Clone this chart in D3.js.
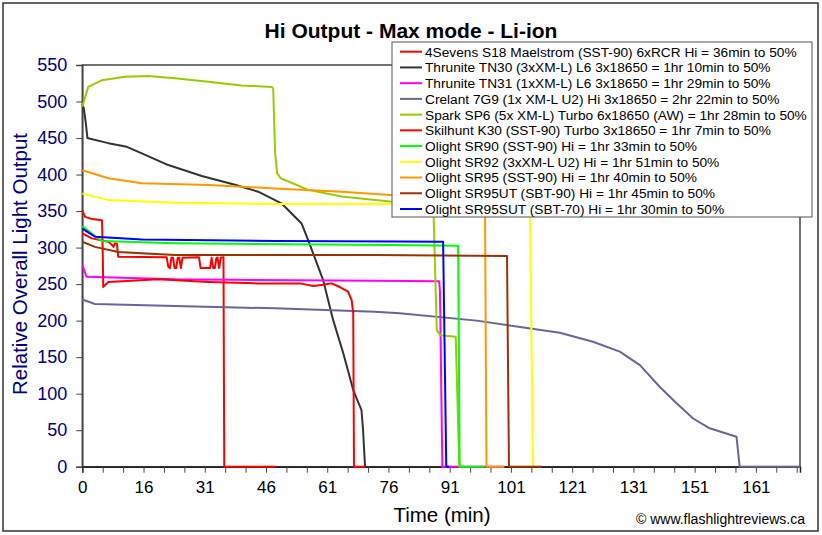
<!DOCTYPE html>
<html><head><meta charset="utf-8">
<script src="https://cdn.jsdelivr.net/npm/d3@7"></script>
<style>
body{margin:0;background:#fff;}
svg{display:block;font-family:Arial,"Liberation Sans",sans-serif;}
</style></head>
<body><svg id="c" width="822" height="535"></svg>
<script>
// ---- data (time in minutes, relative output) ----
const title = "Hi Output - Max mode - Li-ion";
const yTicks = [0,50,100,150,200,250,300,350,400,450,500,550];
const xTickLabels = ["0","16","31","46","61","76","91","101","121","131","151","161"];
const seriesNames = [
  "4Sevens S18 Maelstrom (SST-90) 6xRCR Hi = 36min to 50%",
  "Thrunite TN30 (3xXM-L) L6 3x18650 = 1hr 10min to 50%",
  "Thrunite TN31 (1xXM-L) L6 3x18650 = 1hr 29min to 50%",
  "Crelant 7G9 (1x XM-L U2) Hi 3x18650 = 2hr 22min to 50%",
  "Spark SP6 (5x XM-L) Turbo 6x18650 (AW) = 1hr 28min to 50%",
  "Skilhunt K30 (SST-90) Turbo 3x18650 = 1hr 7min to 50%",
  "Olight SR90 (SST-90) Hi = 1hr 33min to 50%",
  "Olight SR92 (3xXM-L U2) Hi = 1hr 51min to 50%",
  "Olight SR95 (SST-90) Hi = 1hr 40min to 50%",
  "Olight SR95UT (SBT-90) Hi = 1hr 45min to 50%",
  "Olight SR95SUT (SBT-70) Hi = 1hr 30min to 50%"
];
const seriesColors = ["#ff0000","#333333","#ff00ff","#666699","#99cc00","#ff0000","#00ff00","#ffff00","#ff9900","#993300","#0000ff"];

const s18 = [[0,319.5],[2.4,312.6],[6.6,308],[7.3,305],[7.9,301],[8.3,306],[8.8,305],[9.1,287.5],[21,286.7],[21.4,286.7],[21.8,274],[22.2,271.6],[22.6,286],[23.0,286],[23.4,272],[23.8,272],[24.2,286],[24.6,286],[25.0,272],[25.4,286],[29.6,286.7],[30.0,272],[32.4,272],[32.8,286],[33.2,272],[33.6,272],[34.0,286],[34.3,286],[34.7,272],[35.1,286],[35.8,286.7],[36.0,0],[49,0]];
const tn30 = [[0,497],[0.4,490],[0.9,470],[1.3,450],[1.5,449.6],[6.6,443],[11.3,438],[15.1,429],[21.8,413],[30.3,398],[38.7,386],[44.6,376.5],[50.5,360.6],[55.6,333],[57.3,310],[61.1,255],[63.6,201],[66.2,155],[68.7,105],[70.8,77.6],[71.2,50],[71.7,0]];
const tn31 = [[0,276],[1.1,260],[23.5,256.5],[74,254.7],[90.5,254],[90.7,240],[91.3,0],[107,0]];
const g79 = [[0,229],[3.2,222.7],[23.5,220],[48.9,216.8],[74.2,212],[80.5,210],[100,200],[121.1,183.5],[129.5,171],[136.3,157.5],[141.4,139],[146.4,109.5],[150.7,86.8],[154.9,66],[159.1,52.6],[165.9,41],[166.7,0],[182,0]];
const sp6 = [[0,493],[1.5,520],[4.9,529],[10.8,534],[16.7,535],[23.5,532],[31.9,527],[40.4,522],[48,520],[48.4,518],[48.9,430],[49.4,402],[50.3,395],[57.3,379],[65.8,370],[78,363],[87,360],[88.8,352],[89.1,341],[89.9,187],[90.8,180],[94.7,178],[95.6,0],[97,0]];
const k30 = [[0,351],[0.7,342],[2.5,339],[4.5,337.7],[5.0,337],[5.2,290],[5.3,246],[6.6,253],[19.3,256.5],[32,253],[44.7,251],[55.2,251],[58.6,247.4],[61,249],[63.2,251],[65.3,246],[67.4,239.6],[68.3,228],[68.7,210],[68.9,0],[71.7,0]];
const sr90 = [[0,329],[4.9,309],[23.5,306],[78,303.5],[95.3,302.6],[95.7,0],[102,0]];
const sr92 = [[0,374],[6.6,365],[23.5,361.5],[48.9,359.7],[78,359.7],[100,358],[113.5,357],[114.3,0]];
const sr95 = [[0,406],[6.6,395],[15.1,388],[32,385.7],[48.9,381],[65.8,376.5],[78,372],[90,371],[102.1,370],[102.5,0],[107,0]];
const sr95ut = [[0,308],[3.2,301],[9.1,294],[23.5,289.7],[74,289.7],[107.7,288.5],[108.2,0],[116.5,0]];
const sr95sut = [[0,326],[3.2,315],[15.1,311],[48.9,309],[80,308.5],[91.5,308],[92.3,0],[93,0]];
const seriesData = [s18,tn30,tn31,g79,sp6,k30,sr90,sr92,sr95,sr95ut,sr95sut];

const xMax = 182, minorStep = 5.176, yMax = 550;

// ---- drawing ----
const svg = d3.select("#c");
svg.append("rect").attr("x",3).attr("y",3).attr("width",815).attr("height",528)
  .attr("fill","#fff").attr("stroke","#333").attr("stroke-width",1.5);

const L=82.3, R=800, T=65, B=466.7;
const x = d3.scaleLinear().domain([0,xMax]).range([L,R]);
const y = d3.scaleLinear().domain([0,yMax]).range([B,T]);

// plot frame
svg.append("rect").attr("x",L).attr("y",T).attr("width",R-L).attr("height",B-T)
  .attr("fill","#fff").attr("stroke","#444").attr("stroke-width",1.5);

// y axis
const yAxis = d3.axisLeft(y).tickValues(yTicks).tickSize(6).tickFormat(d3.format("d"));
const gy = svg.append("g").attr("transform",`translate(${L},0)`).call(yAxis);
gy.select(".domain").attr("stroke","#444").attr("stroke-width",1.5);
gy.selectAll(".tick line").attr("stroke","#444");
gy.selectAll(".tick text").attr("fill","#000080").attr("font-size",18).attr("x",-15);

// x axis: minor ticks every step, labels every 3rd
const minorVals = d3.range(0,36).map(i=>i*minorStep);
const xAxis = d3.axisBottom(x).tickValues(minorVals).tickSize(6)
  .tickFormat((d,i)=> i%3===0 ? xTickLabels[i/3] : "");
const gx = svg.append("g").attr("transform",`translate(0,${B})`).call(xAxis);
gx.select(".domain").attr("stroke","#222").attr("stroke-width",1.5);
gx.selectAll(".tick line").attr("stroke","#444");
gx.selectAll(".tick text").attr("fill","#000").attr("font-size",17).attr("y",14);

// series
const line = d3.line().x(d=>x(d[0])).y(d=>y(d[1]));
const plot = svg.append("g");
seriesData.forEach((s,i)=>{
  plot.append("path").datum(s).attr("d",line).attr("fill","none")
    .attr("stroke",seriesColors[i]).attr("stroke-width",2).attr("stroke-linejoin","round");
});

// title and axis titles
svg.append("text").attr("x",411).attr("y",37.5).attr("text-anchor","middle")
  .attr("font-size",21).attr("font-weight","bold").text(title);
svg.append("text").attr("transform","translate(27,264) rotate(-90)").attr("text-anchor","middle")
  .attr("font-size",20.5).attr("fill","#000080").text("Relative Overall Light Output");
svg.append("text").attr("x",442).attr("y",522).attr("text-anchor","middle")
  .attr("font-size",20.5).attr("fill","#000").text("Time (min)");
svg.append("text").attr("x",805).attr("y",524).attr("text-anchor","end")
  .attr("font-size",14).attr("fill","#000").text("\u00a9 www.flashlightreviews.ca");

// legend
const lg = svg.append("g");
lg.append("rect").attr("x",392).attr("y",42).attr("width",420).attr("height",175)
  .attr("fill","#fff").attr("stroke","#555").attr("stroke-width",1);
seriesNames.forEach((n,i)=>{
  const cy = 51.7 + i*15.73;
  lg.append("line").attr("x1",400).attr("x2",422).attr("y1",cy).attr("y2",cy)
    .attr("stroke",seriesColors[i]).attr("stroke-width",2);
  lg.append("text").attr("x",425).attr("y",cy).attr("dy","0.36em")
    .attr("font-size",13.7).text(n);
});
</script></body></html>
